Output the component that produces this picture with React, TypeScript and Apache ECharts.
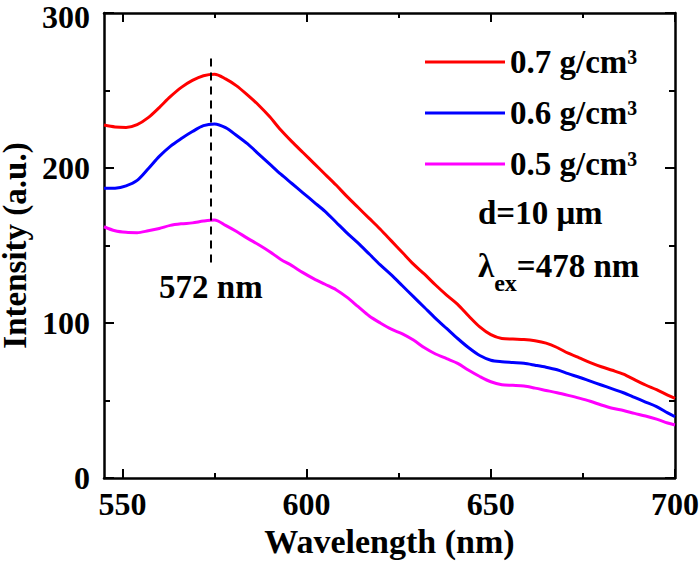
import React, { useEffect, useRef } from "react";
import * as echarts from "echarts";

const FONT = "'Liberation Serif', 'Times New Roman', serif";

const wavelengths = [
  545, 548, 551, 554, 557, 560, 563, 566, 569, 572, 575, 578, 581, 584, 587, 590,
  593, 596, 599, 602, 605, 608, 611, 614, 617, 620, 623, 626, 629, 632, 635, 638,
  641, 644, 647, 650, 653, 656, 659, 662, 665, 668, 671, 674, 677, 680, 683, 686,
  689, 692, 695, 698, 700,
];

const density07 = [
  227.7, 226.5, 226.2, 228, 232.5, 239, 246, 252, 256.5, 259.5, 260.5, 257.5, 253, 247, 240.5, 233,
  224.5, 217, 210, 203, 196, 189, 181.5, 174.5, 167.5, 160.5, 153, 145.5, 138, 131.5, 124.5, 118,
  112, 104.5, 97.5, 92.5, 90, 89.6, 89.3, 88.5, 87, 84.2, 80.5, 77.5, 74.5, 71.8, 69.5, 67,
  63.5, 60, 57, 53.5, 51.4,
];

const density06 = [
  186.9, 187, 188.5, 192, 199.5, 207.5, 214, 219, 223.5, 227.3, 228.4, 226, 221, 215.5, 209, 202.5,
  196, 190, 184, 178, 172, 165, 158, 151.5, 144.5, 137.5, 131, 124, 117, 110, 103, 96.5,
  90, 84, 79, 76, 75, 74.5, 74, 72.8, 71.5, 69.8, 67.3, 65, 62.5, 60, 57.5, 55,
  52, 49, 46, 42, 39.5,
];

const density05 = [
  162.1, 159.5, 158.5, 158.3, 159.5, 161, 163, 164, 164.6, 165.8, 166.5, 163, 159, 154.6, 150.5, 146,
  141, 137, 132.5, 128.5, 125, 121.5, 116.5, 110.5, 104.5, 100, 96, 93, 89, 84, 80, 77,
  74, 69.5, 65.5, 62.1, 60.2, 59.8, 59.3, 58, 56.5, 55, 53.3, 51.5, 49.5, 47.1, 45, 43.5,
  41.7, 40, 38, 35.5, 34.2,
];

const seriesNames = ["0.7 g/cm³", "0.6 g/cm³", "0.5 g/cm³"];
const seriesColors = ["#ff0000", "#0000ff", "#ff00ff"];

const xMajorTicks = [550, 600, 650, 700];
const xMinorTicks = [575, 625, 675];
const xRange = [545, 700];
const yRange = [0, 300];
const yInterval = 100;

const peakWavelength = 574;
const peakLineRange = [139, 272];
const peakLabel = "572 nm";

const annotationThickness = "d=10 μm";
const annotationExcitation = ["λ", "ex", "=478 nm"];

const xTitle = "Wavelength (nm)";
const yTitle = "Intensity (a.u.)";

export default function App() {
  const ref = useRef<HTMLDivElement>(null);

  useEffect(() => {
    if (!ref.current) return;
    const chart = echarts.init(ref.current, undefined, { renderer: "svg" });

    const mk = (ys: number[]) => wavelengths.map((w, i) => [w, ys[i]]);
    const seriesData = [mk(density07), mk(density06), mk(density05)];

    const baseX = {
      type: "value" as const,
      min: xRange[0],
      max: xRange[1],
      gridIndex: 0,
      splitLine: { show: false },
    };
    const axisLineStyle = { show: true, lineStyle: { color: "#000", width: 2.5 } };
    const labelFont = { color: "#000", fontFamily: FONT, fontWeight: "bold", fontSize: 32 };

    const option: any = {
      animation: false,
      backgroundColor: "#fff",
      grid: {
        left: 104,
        right: 25,
        top: 13,
        bottom: 85,
        containLabel: false,
        outerBoundsMode: "none",
      },
      xAxis: [
        {
          ...baseX,
          position: "bottom",
          axisLine: axisLineStyle,
          axisTick: {
            show: true,
            inside: true,
            length: 9,
            lineStyle: { color: "#000", width: 2 },
            customValues: xMajorTicks,
          },
          axisLabel: {
            show: true,
            customValues: xMajorTicks,
            margin: 12,
            ...labelFont,
            lineHeight: 28,
          },
          name: xTitle,
          nameLocation: "middle",
          nameGap: 45,
          nameTextStyle: {
            color: "#000",
            fontFamily: FONT,
            fontWeight: "bold",
            fontSize: 34,
          },
        },
        {
          ...baseX,
          position: "bottom",
          axisLine: { show: false },
          axisTick: {
            show: true,
            inside: true,
            length: 5,
            lineStyle: { color: "#000", width: 2 },
            customValues: xMinorTicks,
          },
          axisLabel: { show: false, customValues: xMinorTicks },
        },
        {
          ...baseX,
          position: "top",
          axisLine: axisLineStyle,
          axisTick: {
            show: true,
            inside: true,
            length: 9,
            lineStyle: { color: "#000", width: 2 },
            customValues: xMajorTicks,
          },
          axisLabel: { show: false, customValues: xMajorTicks },
        },
        {
          ...baseX,
          position: "top",
          axisLine: { show: false },
          axisTick: {
            show: true,
            inside: true,
            length: 5,
            lineStyle: { color: "#000", width: 2 },
            customValues: xMinorTicks,
          },
          axisLabel: { show: false, customValues: xMinorTicks },
        },
      ],
      yAxis: [
        {
          type: "value",
          min: yRange[0],
          max: yRange[1],
          interval: yInterval,
          position: "left",
          axisLine: axisLineStyle,
          axisTick: { show: true, inside: true, length: 10, lineStyle: { color: "#000", width: 2 } },
          minorTick: { show: true, splitNumber: 2, length: 6, lineStyle: { color: "#000", width: 2 } },
          splitLine: { show: false },
          axisLabel: {
            margin: 14,
            ...labelFont,
            lineHeight: 24,
            formatter: (v: number) => (v === yRange[1] ? `{top|${v}}` : `${v}`),
            rich: {
              top: { ...labelFont, lineHeight: 24, padding: [8, 0, 0, 0] },
            },
          },
          name: yTitle,
          nameLocation: "middle",
          nameGap: 59,
          nameTextStyle: {
            color: "#000",
            fontFamily: FONT,
            fontWeight: "bold",
            fontSize: 33,
            lineHeight: 30,
          },
        },
        {
          type: "value",
          min: yRange[0],
          max: yRange[1],
          interval: yInterval,
          position: "right",
          axisLine: axisLineStyle,
          axisTick: { show: true, inside: true, length: 10, lineStyle: { color: "#000", width: 2 } },
          minorTick: { show: true, splitNumber: 2, length: 6, lineStyle: { color: "#000", width: 2 } },
          splitLine: { show: false },
          axisLabel: { show: false },
        },
      ],
      legend: {
        orient: "vertical",
        left: 425,
        top: 42,
        padding: 0,
        itemWidth: 80,
        itemHeight: 3,
        itemGap: 11,
        icon: "rect",
        data: seriesNames,
        textStyle: {
          color: "#000",
          fontFamily: FONT,
          fontWeight: "bold",
          fontSize: 33,
          lineHeight: 40,
        },
      },
      graphic: [
        {
          type: "text",
          x: 478,
          y: 213,
          style: {
            text: annotationThickness,
            fill: "#000",
            font: `bold 33px ${FONT}`,
            verticalAlign: "middle",
          },
        },
        {
          type: "text",
          x: 478,
          y: 266,
          style: {
            text: `{a|${annotationExcitation[0]}}{s|${annotationExcitation[1]}}{a|${annotationExcitation[2]}}`,
            verticalAlign: "middle",
            rich: {
              a: { fill: "#000", fontFamily: FONT, fontWeight: "bold", fontSize: 33, lineHeight: 58 },
              s: {
                fill: "#000",
                fontFamily: FONT,
                fontWeight: "bold",
                fontSize: 24,
                verticalAlign: "bottom",
              },
            },
          },
        },
      ],
      series: seriesNames.map((name, i) => ({
        name,
        type: "line",
        xAxisIndex: 0,
        yAxisIndex: 0,
        data: seriesData[i],
        showSymbol: false,
        smooth: 0.3,
        color: seriesColors[i],
        lineStyle: { width: 3, color: seriesColors[i] },
        markLine:
          i === 0
            ? {
                silent: true,
                symbol: "none",
                lineStyle: { color: "#000", width: 2, type: [8, 6] },
                label: {
                  show: true,
                  position: "start",
                  distance: 8,
                  formatter: peakLabel,
                  color: "#000",
                  fontFamily: FONT,
                  fontWeight: "bold",
                  fontSize: 33,
                },
                data: [
                  [
                    { coord: [peakWavelength, peakLineRange[0]] },
                    { coord: [peakWavelength, peakLineRange[1]] },
                  ],
                ],
              }
            : undefined,
      })),
    };

    chart.setOption(option);
    return () => chart.dispose();
  }, []);

  return (
    <div
      ref={ref}
      style={{ position: "fixed", left: 0, top: 0, width: 700, height: 563, background: "#fff" }}
    />
  );
}
